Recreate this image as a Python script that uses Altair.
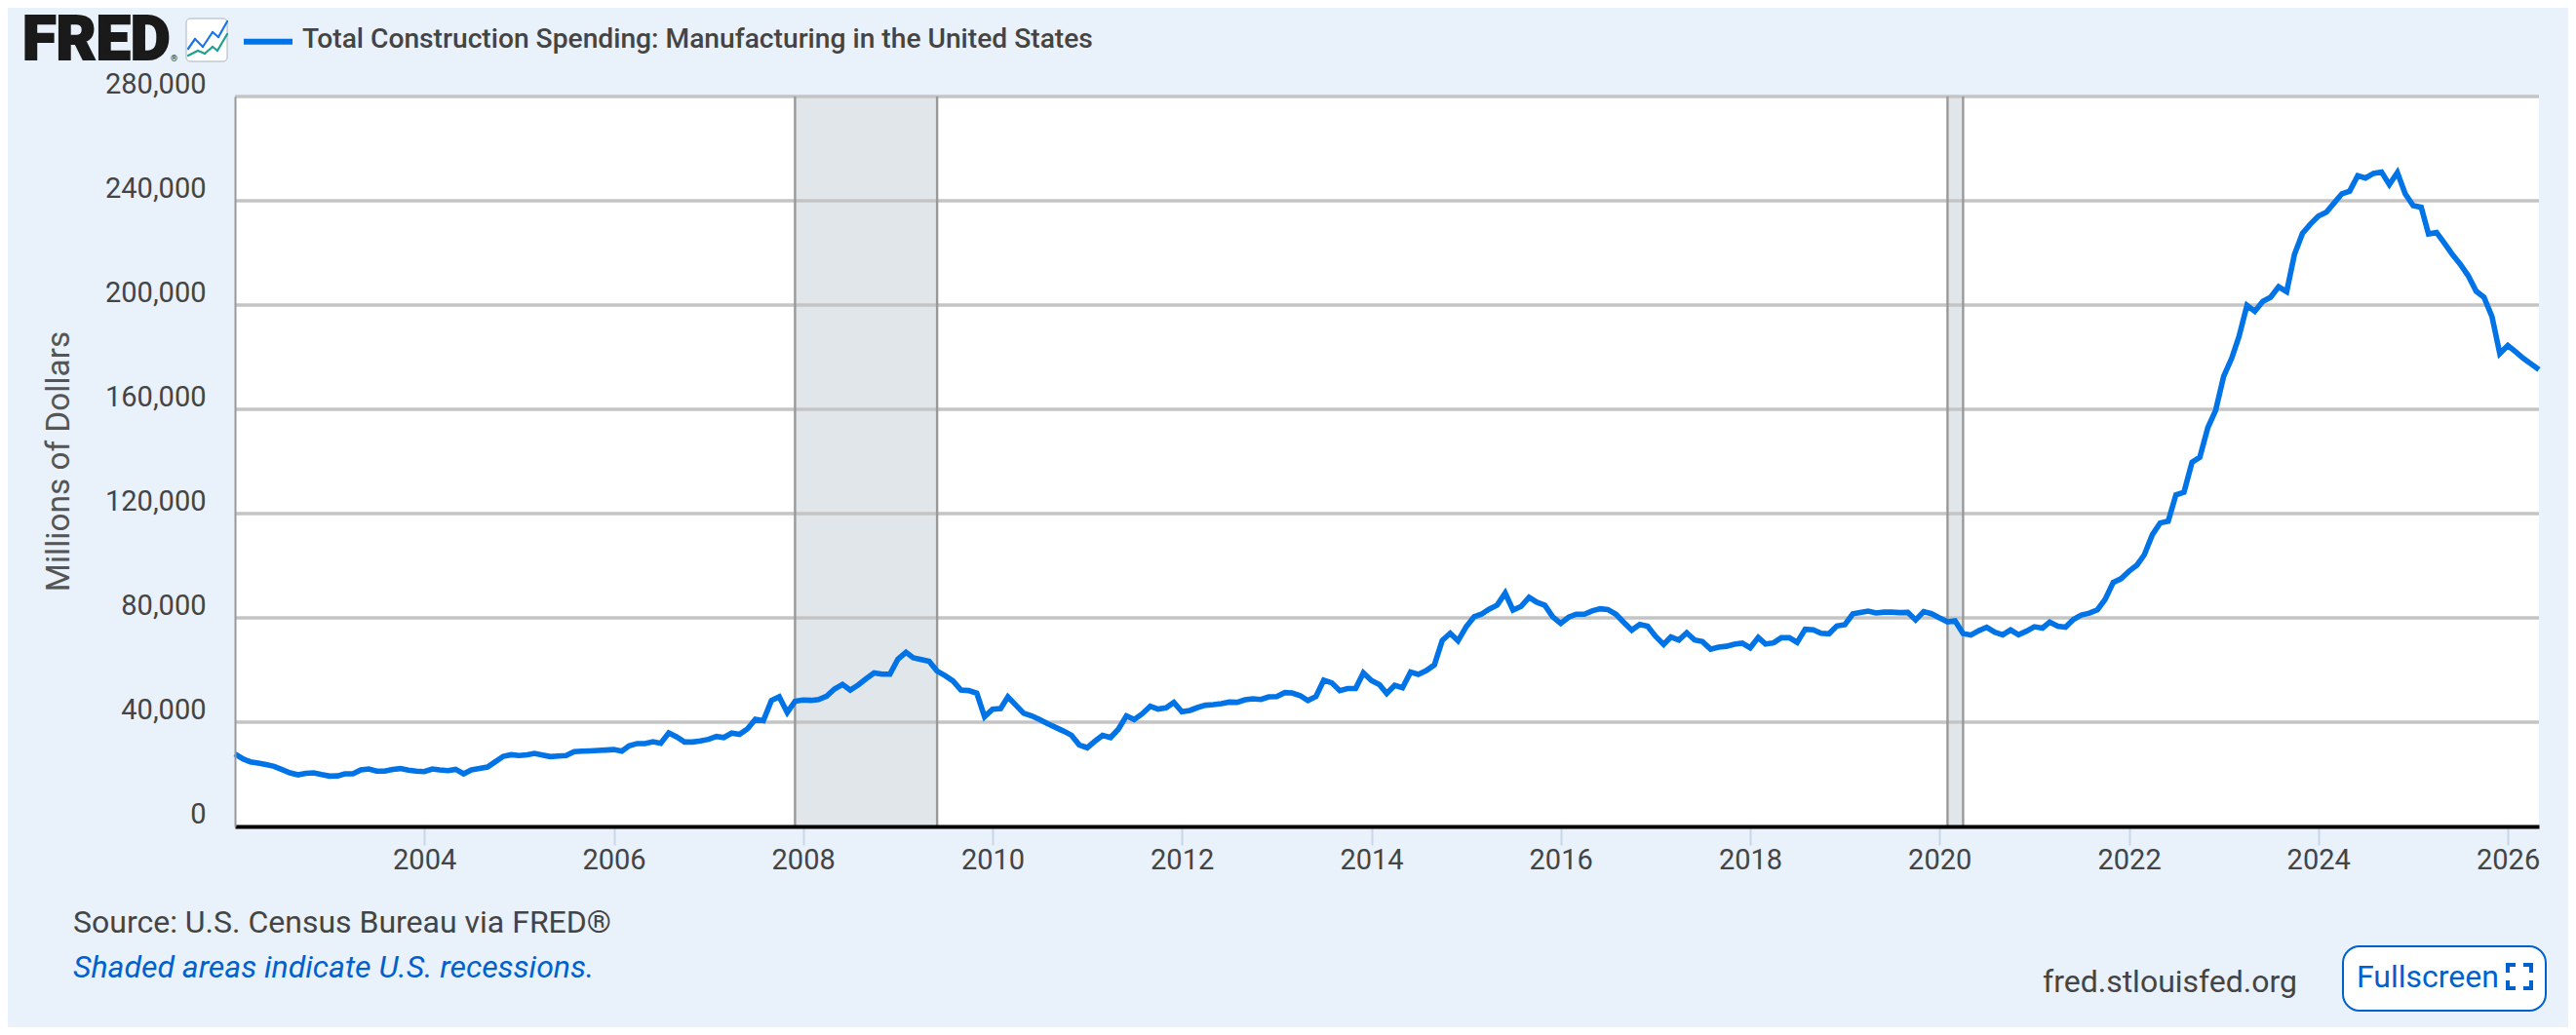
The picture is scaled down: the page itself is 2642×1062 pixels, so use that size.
import altair as alt
import pandas as pd

# Monthly values, Jan 2002 onward (millions of dollars)
v2002 = [27800, 25900, 24800, 24300, 23700, 23050, 21800, 20560, 19800, 20400, 20560, 19900]
v2003 = [19300, 19400, 20200, 20200, 21700, 22050, 21200, 21200, 21900, 22200, 21550, 21200]
v2004 = [21050, 22050, 21700, 21400, 21900, 20200, 21700, 22200, 22800, 24800, 26900, 27500]
v2005 = [27200, 27500, 28000, 27400, 26800, 27000, 27200, 28700, 28900, 29000, 29150, 29300]
v2006 = [29500, 28900, 30900, 31800, 31800, 32500, 31900, 35900, 34300, 32400, 32400, 32800]
v2007 = [33400, 34500, 34100, 35800, 35300, 37500, 41100, 40600, 48300, 49700, 43700, 48000]
v2008 = [48500, 48350, 48700, 50000, 52700, 54450, 52300, 54300, 56700, 58900, 58400, 58400]
v2009 = [64200, 66800, 64700, 64050, 63400, 59600, 57900, 55800, 52300, 52100, 51100, 42100]
v2010 = [45000, 45200, 49700, 46500, 43400, 42400, 41000, 39400, 38000, 36600, 35000, 31300]
v2011 = [30200, 32800, 34900, 34100, 37300, 42400, 41000, 43200, 46100, 45000, 45500, 47600]
v2012 = [44000, 44500, 45600, 46500, 46700, 47100, 47700, 47600, 48600, 48950, 48700, 49700]
v2013 = [49800, 51350, 51200, 50200, 48300, 49800, 56100, 55100, 52100, 52900, 52900, 58900]
v2014 = [56000, 54400, 51000, 54100, 53200, 59200, 58300, 59800, 62000, 71300, 74100, 71200]
v2015 = [76500, 80400, 81400, 83400, 84900, 89500, 83000, 84400, 87900, 86000, 84800, 80400]
v2016 = [77900, 80300, 81400, 81400, 82650, 83500, 83200, 81400, 78200, 75300, 77500, 76800]
v2017 = [72900, 69800, 72700, 71500, 74300, 71500, 70900, 68000, 68800, 69100, 69900, 70300]
v2018 = [68500, 72500, 70000, 70400, 72400, 72400, 70600, 75600, 75400, 74100, 73900, 76900]
v2019 = [77400, 81600, 82100, 82600, 81900, 82200, 82200, 82000, 82100, 79200, 82400, 81600]
v2020 = [80000, 78500, 78900, 74000, 73400, 75100, 76400, 74500, 73500, 75400, 73500, 74900]
v2021 = [76600, 76100, 78400, 76800, 76400, 79400, 81100, 81800, 83100, 87100, 93600, 95000]
v2022 = [97900, 100300, 104200, 111900, 116400, 117100, 127200, 128200, 139700, 141600, 153000, 159600]
v2023 = [172700, 179600, 187900, 199900, 197600, 201400, 203000, 207000, 205100, 219400, 227500, 231000]
v2024 = [234100, 235600, 239000, 242700, 243700, 249600, 248700, 250500, 251000, 246200, 250800, 242700]
v2025 = [238100, 237500, 227300, 227800, 223800, 219400, 215700, 211300, 205300, 203000, 195500, 181400]
v2026 = [184500, 182000, 179600, 177400, 175200]

values = (v2002 + v2003 + v2004 + v2005 + v2006 + v2007 + v2008 + v2009 + v2010 + v2011 + v2012
          + v2013 + v2014 + v2015 + v2016 + v2017 + v2018 + v2019 + v2020 + v2021 + v2022 + v2023
          + v2024 + v2025 + v2026)
dates = pd.date_range("2002-01-01", periods=len(values), freq="MS").strftime("%Y-%m-%d").tolist()

rec_start = ["2007-12-01", "2020-02-01"]
rec_end = ["2009-06-01", "2020-04-01"]
y_ticks = [0, 40000, 80000, 120000, 160000, 200000, 240000, 280000]
x_tick_years = [2004, 2006, 2008, 2010, 2012, 2014, 2016, 2018, 2020, 2022, 2024, 2026]

title_text = "Total Construction Spending: Manufacturing in the United States"
y_title = "Millions of Dollars"
source_text = "Source: U.S. Census Bureau via FRED®"
shade_text = "Shaded areas indicate U.S. recessions."
site_text = "fred.stlouisfed.org"
button_text = "Fullscreen"

BG = "#E9F1FB"
BLUE = "#0073E6"
LINK = "#0061CC"
TEXT = "#444444"
FONT = "Roboto"

LEFT, TOP, W, H = 241, 99, 2363, 749


def X(p):
    return p - LEFT


def Y(p):
    return p - TOP


def dt(y, m=1):
    return alt.DateTime(year=y, month=m, date=1, utc=True)


x_scale = alt.Scale(type="utc", domain=[dt(2002, 1), dt(2026, 5)])
y_scale = alt.Scale(domain=[0, 280000], nice=False)

x_axis = alt.Axis(
    values=[dt(y) for y in x_tick_years],
    format="%Y",
    title=None,
    grid=False,
    domainColor="#000000",
    domainWidth=4,
    tickColor="#C9D6E8",
    tickWidth=2,
    tickSize=19,
    labelFont=FONT,
    labelFontSize=29,
    labelColor=TEXT,
    labelPadding=1,
    labelFlush=False,
    labelOverlap=False,
    zindex=1,
)
y_axis = alt.Axis(
    values=y_ticks,
    format=",d",
    title=y_title,
    titleFont=FONT,
    titleFontSize=33.4,
    titleFontWeight="normal",
    titleColor="#555555",
    titleX=X(77),
    titleY=Y(473),
    grid=False,
    domainColor="#999999",
    domainWidth=2,
    ticks=False,
    labelFont=FONT,
    labelFontSize=29,
    labelColor=TEXT,
    labelPadding=30,
    labelOffset=-13,
    zindex=1,
)

rec = pd.DataFrame({"start": rec_start, "end": rec_end})
edges = pd.DataFrame({"d": rec_start + rec_end})
grid = pd.DataFrame({"v": y_ticks[1:]})
series = pd.DataFrame({"date": dates, "value": values})

band = alt.Chart(rec).mark_rect(color="#E1E6EB").encode(
    x=alt.X("start:T", scale=x_scale, axis=x_axis),
    x2="end:T",
)
grid_rules = alt.Chart(grid).mark_rule(color="#C4C4C4", strokeWidth=3.6).encode(
    y=alt.Y("v:Q", scale=y_scale, axis=y_axis)
)
edge_rules = alt.Chart(edges).mark_rule(color="#999999", strokeWidth=2.4).encode(
    x=alt.X("d:T", scale=x_scale, axis=x_axis)
)
line = alt.Chart(series).mark_line(color=BLUE, strokeWidth=5.6, strokeJoin="miter", strokeMiterLimit=10).encode(
    x=alt.X("date:T", scale=x_scale, axis=x_axis),
    y=alt.Y("value:Q", scale=y_scale, axis=y_axis),
)


def text(s, x, y, size, color=TEXT, align="left", weight="normal", style="normal", **kw):
    return alt.Chart().mark_text(
        font=FONT, fontSize=size, color=color, align=align, baseline="middle",
        fontWeight=weight, fontStyle=style, **kw,
    ).encode(x=alt.value(X(x)), y=alt.value(Y(y)), text=alt.value(s))


def seg(x1, y1, x2, y2, color, width, cap="butt"):
    return alt.Chart().mark_rule(color=color, strokeWidth=width, strokeCap=cap).encode(
        x=alt.value(X(x1)), x2=alt.value(X(x2)), y=alt.value(Y(y1)), y2=alt.value(Y(y2))
    )


def box(x1, y1, x2, y2, fill, stroke, sw, r):
    return alt.Chart().mark_rect(fill=fill, stroke=stroke, strokeWidth=sw, cornerRadius=r).encode(
        x=alt.value(X(x1)), x2=alt.value(X(x2)), y=alt.value(Y(y1)), y2=alt.value(Y(y2))
    )


icon_blue_x = [193, 200, 208, 218, 224, 233]
icon_blue_y = [50, 40, 48, 33, 38, 22]
icon_teal_x = [193, 203, 210, 218, 223, 233]
icon_teal_y = [57, 52, 55, 48, 52, 35]

deco = [
    text("FRED", 23, 42, 63, color="#1A1A1A", weight=900, stroke="#1A1A1A", strokeWidth=2),
    text("®", 175, 60, 9, color="#1A1A1A"),
    box(191, 19, 233, 63, "#FFFFFF", "#AAB4BE", 1, 4),
]
for i in range(5):
    deco.append(seg(icon_blue_x[i], icon_blue_y[i], icon_blue_x[i + 1], icon_blue_y[i + 1], "#1A73E8", 2.2, "round"))
    deco.append(seg(icon_teal_x[i], icon_teal_y[i], icon_teal_x[i + 1], icon_teal_y[i + 1], "#1FA08E", 2.2, "round"))
deco += [
    seg(250, 42.7, 300, 42.7, BLUE, 6),
    text(title_text, 310, 41, 28.2, weight=500),
    text(source_text, 75, 947, 32),
    text(shade_text, 75, 993, 32, color=LINK, style="italic"),
    text(site_text, 2095, 1008, 32),
    box(2403, 971, 2611, 1037, "#FFFFFF", LINK, 2, 17),
    text(button_text, 2417, 1003, 32, color=LINK),
]
# Fullscreen corner brackets
bx0, bx1, by0, by1, arm = 2572, 2596, 990, 1014, 6
for cx, dx in ((bx0, 1), (bx1, -1)):
    for cy, dy in ((by0, 1), (by1, -1)):
        deco.append(seg(cx, cy, cx + dx * arm, cy, LINK, 4, "square"))
        deco.append(seg(cx, cy, cx, cy + dy * arm, LINK, 4, "square"))

TOTAL_W, TOTAL_H = 2626, 1046
chart = alt.layer(band, grid_rules, edge_rules, line, *deco).properties(
    width=W,
    height=H,
    autosize=alt.AutoSizeParams(type="none"),
    padding={"left": LEFT - 8, "top": TOP - 8, "right": TOTAL_W - (LEFT - 8) - W, "bottom": TOTAL_H - (TOP - 8) - H},
    background=BG,
).configure_view(fill="#FFFFFF", stroke=None)

chart.save("out.html", embed_options={"renderer": "svg", "actions": False})
